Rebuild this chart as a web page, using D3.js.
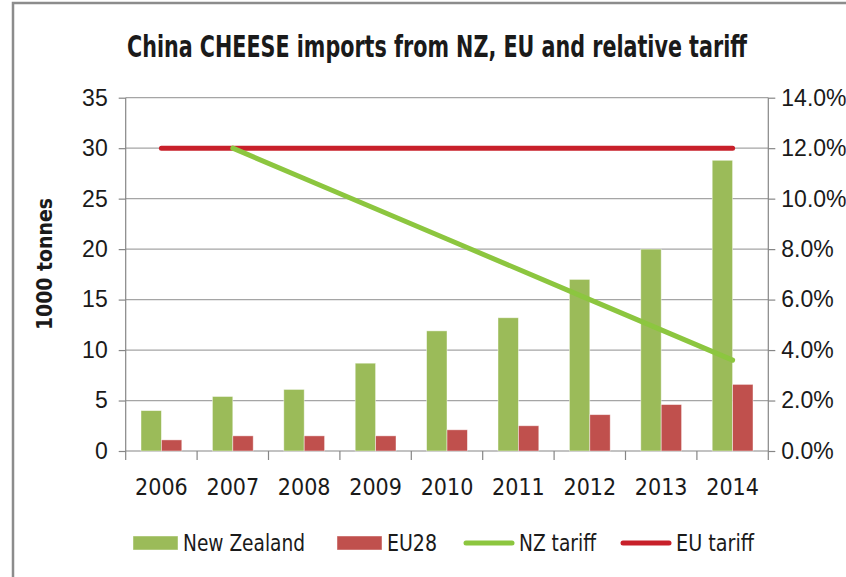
<!DOCTYPE html>
<html>
<head>
<meta charset="utf-8">
<script src="https://cdn.jsdelivr.net/npm/d3@7"></script>
<style>
  html, body { margin: 0; padding: 0; background: #fff; }
  svg { display: block; }
  text { font-family: "Liberation Sans Narrow", "Arial Narrow", "DejaVu Sans Condensed", sans-serif; fill: #1a1a1a; }
</style>
</head>
<body>
<svg id="chart" width="846" height="577"></svg>
<script>
// China cheese imports (1000 tonnes) and applied tariff rates
const years = ["2006", "2007", "2008", "2009", "2010", "2011", "2012", "2013", "2014"];
const newZealand = [4.0, 5.4, 6.1, 8.7, 11.9, 13.2, 17.0, 20.0, 28.8];
const eu28 = [1.1, 1.5, 1.5, 1.5, 2.1, 2.5, 3.6, 4.6, 6.6];
const nzTariff = [null, 0.12, 0.108, 0.096, 0.084, 0.072, 0.060, 0.048, 0.036];
const euTariff = [0.12, 0.12, 0.12, 0.12, 0.12, 0.12, 0.12, 0.12, 0.12];
const leftTicks = [0, 5, 10, 15, 20, 25, 30, 35];
const rightTicks = [0, 0.02, 0.04, 0.06, 0.08, 0.10, 0.12, 0.14];

const C = {
  nzBar: "#9bbb59",
  euBar: "#c0504d",
  nzLine: "#8cc63f",
  euLine: "#c8202a",
  axis: "#868686",
  grid: "#a5a5a5",
  frame: "#8c8c8c"
};

const svg = d3.select("#chart");
const plot = { left: 125.7, right: 768.3, top: 97.7, bottom: 451 };

// chart frame
svg.append("rect")
  .attr("x", 13).attr("y", 3)
  .attr("width", 846).attr("height", 600)
  .attr("fill", "#fff").attr("stroke", C.frame).attr("stroke-width", 2.5);

const x = d3.scaleBand().domain(years).range([plot.left, plot.right]).paddingInner(0).paddingOuter(0);
const bw = x.bandwidth() / 3.5;
const xSeries = d3.scaleBand().domain(["nz", "eu"]).range([x.bandwidth() / 2 - bw, x.bandwidth() / 2 + bw]);
const y = d3.scaleLinear().domain([0, 35]).range([plot.bottom, plot.top]);
const y2 = d3.scaleLinear().domain([0, 0.14]).range([plot.bottom, plot.top]);

// gridlines
svg.append("g")
  .selectAll("line").data(leftTicks.filter(d => d > 0)).join("line")
  .attr("x1", plot.left).attr("x2", plot.right)
  .attr("y1", d => y(d)).attr("y2", d => y(d))
  .attr("stroke", C.grid).attr("stroke-width", 1.2);

// left axis
const leftAxis = svg.append("g")
  .attr("transform", `translate(${plot.left},0)`)
  .call(d3.axisLeft(y).tickValues(leftTicks).tickSize(7).tickPadding(11).tickFormat(d3.format("d")));
leftAxis.select(".domain").attr("d", `M0,${plot.top}V${plot.bottom + 9}`);

// right axis
const rightAxis = svg.append("g")
  .attr("transform", `translate(${plot.right},0)`)
  .call(d3.axisRight(y2).tickValues(rightTicks).tickSize(7).tickPadding(6).tickFormat(d3.format(".1%")));
rightAxis.select(".domain").attr("d", `M0,${plot.top}V${plot.bottom + 9}`);

// bottom axis: ticks on category boundaries
const bottomAxis = svg.append("g")
  .attr("transform", `translate(0,${plot.bottom})`);
bottomAxis.append("line")
  .attr("x1", plot.left).attr("x2", plot.right)
  .attr("stroke", C.axis).attr("stroke-width", 1.2);
bottomAxis.selectAll(".bt").data(years.slice(1)).join("line")
  .attr("class", "bt")
  .attr("x1", d => x(d)).attr("x2", d => x(d))
  .attr("y1", 0).attr("y2", 9)
  .attr("stroke", C.axis).attr("stroke-width", 1.2);
bottomAxis.selectAll("text").data(years).join("text")
  .attr("x", d => x(d) + x.bandwidth() / 2)
  .attr("y", 44)
  .attr("text-anchor", "middle")
  .attr("font-size", 23)
  .text(d => d);

[leftAxis, rightAxis].forEach(g => {
  g.selectAll(".domain").attr("stroke", C.axis).attr("stroke-width", 1.2);
  g.selectAll(".tick line").attr("stroke", C.axis).attr("stroke-width", 1.2);
  g.selectAll(".tick text").attr("font-size", 23).attr("fill", "#1a1a1a")
    .style("font-family", '"Liberation Sans Narrow", "Arial Narrow", sans-serif');
});

// bars
const groups = svg.append("g").selectAll("g").data(years).join("g")
  .attr("transform", d => `translate(${x(d)},0)`);
groups.append("rect")
  .attr("x", xSeries("nz")).attr("width", xSeries.bandwidth())
  .attr("y", (d, i) => y(newZealand[i])).attr("height", (d, i) => y(0) - y(newZealand[i]))
  .attr("fill", C.nzBar).attr("stroke", "rgba(255,255,255,0.55)").attr("stroke-width", 0.8);
groups.append("rect")
  .attr("x", xSeries("eu")).attr("width", xSeries.bandwidth())
  .attr("y", (d, i) => y(eu28[i])).attr("height", (d, i) => y(0) - y(eu28[i]))
  .attr("fill", C.euBar).attr("stroke", "rgba(255,255,255,0.55)").attr("stroke-width", 0.8);

// tariff lines
const cx = d => x(d) + x.bandwidth() / 2;
const line = d3.line()
  .defined(d => d.v != null)
  .x(d => cx(d.year)).y(d => y2(d.v));
svg.append("path")
  .datum(years.map((yr, i) => ({ year: yr, v: euTariff[i] })))
  .attr("d", line).attr("fill", "none")
  .attr("stroke", C.euLine).attr("stroke-width", 5).attr("stroke-linecap", "round");
svg.append("path")
  .datum(years.map((yr, i) => ({ year: yr, v: nzTariff[i] })))
  .attr("d", line).attr("fill", "none")
  .attr("stroke", C.nzLine).attr("stroke-width", 5).attr("stroke-linecap", "round")
  .attr("stroke-linejoin", "round");

// title: tall condensed lettering, squeezed horizontally to span 620px
const titleG = svg.append("g").attr("transform", "translate(437,57)");
const title = titleG.append("text")
  .attr("x", 0).attr("y", 0)
  .attr("text-anchor", "middle")
  .attr("font-size", 30).attr("font-weight", "bold")
  .text("China CHEESE imports from NZ, EU and relative tariff");
const tw = title.node().getComputedTextLength();
if (tw > 0) titleG.attr("transform", `translate(437,57) scale(${620 / tw},1)`);

// y axis title
svg.append("text")
  .attr("transform", "translate(52,264) rotate(-90)")
  .attr("text-anchor", "middle")
  .attr("font-size", 21).attr("font-weight", "bold")
  .text("1000 tonnes");

// legend
const legendItems = [
  { label: "New Zealand", type: "rect", color: C.nzBar, x0: 133, x1: 178, tx: 183, tw: 122 },
  { label: "EU28", type: "rect", color: C.euBar, x0: 337, x1: 382, tx: 387, tw: 50 },
  { label: "NZ tariff", type: "line", color: C.nzLine, x0: 466, x1: 512, tx: 519, tw: 77 },
  { label: "EU tariff", type: "line", color: C.euLine, x0: 623, x1: 669, tx: 676, tw: 78 }
];
const legend = svg.append("g");
legendItems.forEach(it => {
  if (it.type === "rect") {
    legend.append("rect").attr("x", it.x0).attr("y", 536).attr("width", it.x1 - it.x0).attr("height", 14)
      .attr("fill", it.color).attr("stroke", "rgba(255,255,255,0.55)").attr("stroke-width", 0.8);
  } else {
    legend.append("line").attr("x1", it.x0).attr("x2", it.x1).attr("y1", 543).attr("y2", 543)
      .attr("stroke", it.color).attr("stroke-width", 5).attr("stroke-linecap", "round");
  }
  legend.append("text").attr("x", it.tx).attr("y", 551)
    .attr("font-size", 23)
    .attr("textLength", it.tw).attr("lengthAdjust", "spacingAndGlyphs")
    .text(it.label);
});
</script>
</body>
</html>
